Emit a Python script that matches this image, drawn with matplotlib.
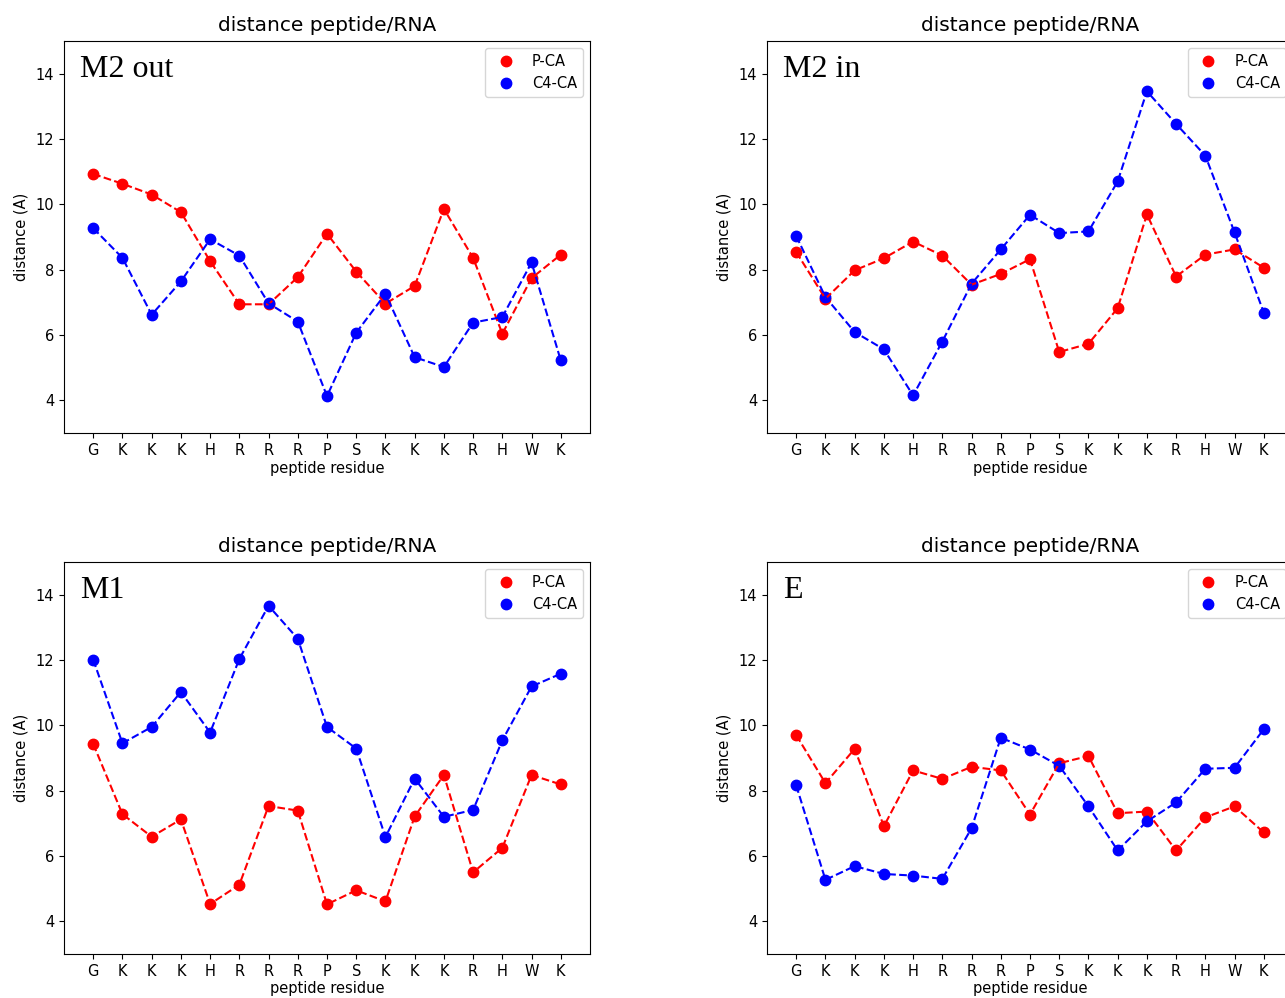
"""
Distance between peptide residues and RNA (P-CA and C4-CA) for four systems.
"""

import matplotlib.pyplot as plt
import numpy as np

residues = ['G', 'K', 'K', 'K', 'H', 'R', 'R', 'R', 'P', 'S', 'K', 'K', 'K', 'R', 'H', 'W', 'K']

# M2 out
m2out_p = [10.93, 10.63, 10.30, 9.76, 8.26, 6.94, 6.94, 7.77, 9.10, 7.94, 6.96, 7.50, 9.86, 8.36, 6.04, 7.74, 8.46]
m2out_c4 = [9.27, 8.36, 6.62, 7.64, 8.93, 8.43, 6.97, 6.41, 4.13, 6.07, 7.26, 5.32, 5.02, 6.38, 6.55, 8.22, 5.22]

# M2 in
m2in_p = [8.54, 7.11, 7.98, 8.35, 8.86, 8.43, 7.54, 7.87, 8.32, 5.48, 5.73, 6.82, 9.69, 7.79, 8.46, 8.62, 8.06]
m2in_c4 = [9.03, 7.16, 6.09, 5.56, 4.15, 5.80, 7.57, 8.62, 9.68, 9.12, 9.17, 10.70, 13.46, 12.46, 11.49, 9.14, 6.68]

# M1
m1_p = [9.43, 7.28, 6.59, 7.12, 4.53, 5.12, 7.53, 7.39, 4.52, 4.95, 4.61, 7.21, 8.48, 5.50, 6.25, 8.48, 8.19]
m1_c4 = [12.01, 9.45, 9.95, 11.02, 9.78, 12.03, 13.66, 12.65, 9.95, 9.29, 6.58, 8.37, 7.20, 7.41, 9.54, 11.19, 11.58]

# E
e_p = [9.70, 8.23, 9.28, 6.91, 8.62, 8.36, 8.73, 8.62, 7.27, 8.84, 9.06, 7.31, 7.36, 6.17, 7.18, 7.52, 6.72]
e_c4 = [8.16, 5.27, 5.69, 5.45, 5.40, 5.30, 6.85, 9.62, 9.26, 8.76, 7.52, 6.17, 7.06, 7.64, 8.67, 8.70, 9.88]

panel_names = ['M2 out', 'M2 in', 'M1', 'E']
p_series = [m2out_p, m2in_p, m1_p, e_p]
c4_series = [m2out_c4, m2in_c4, m1_c4, e_c4]

W, H = 1285, 998
fig = plt.figure(figsize=(W / 100, H / 100), dpi=100)

# axes boxes in pixels: left, top
boxes = [(64, 41), (767, 41), (64, 562), (767, 562)]
ax_w, ax_h = 526, 392

x = np.arange(len(residues))

for name, p, c4, (left, top) in zip(panel_names, p_series, c4_series, boxes):
    ax = fig.add_axes([left / W, 1 - (top + ax_h) / H, ax_w / W, ax_h / H])

    ax.plot(x, p, 'o', color='red', markersize=7.5, label='P-CA')
    ax.plot(x, c4, 'o', color='blue', markersize=7.5, label='C4-CA')
    ax.plot(x, p, '--', color='red', linewidth=1.5)
    ax.plot(x, c4, '--', color='blue', linewidth=1.5)

    ax.set_xlim(-1, len(residues))
    ax.set_ylim(3, 15)
    ax.set_yticks([4, 6, 8, 10, 12, 14])
    ax.set_xticks(x)
    ax.set_xticklabels(residues, fontsize=10.5)
    ax.tick_params(axis='y', labelsize=10.5)

    ax.set_title('distance peptide/RNA', fontsize=14.5, pad=7)
    ax.set_xlabel('peptide residue', fontsize=10.5, labelpad=2)
    ax.set_ylabel('distance (A)', fontsize=10.5, labelpad=5)

    ax.text(0.03, 0.965, name, transform=ax.transAxes, va='top', ha='left',
            fontsize=23, family='Liberation Serif')

    ax.legend(loc='upper right', numpoints=1, fontsize=10.5)

fig.savefig('out.png', dpi=100)
